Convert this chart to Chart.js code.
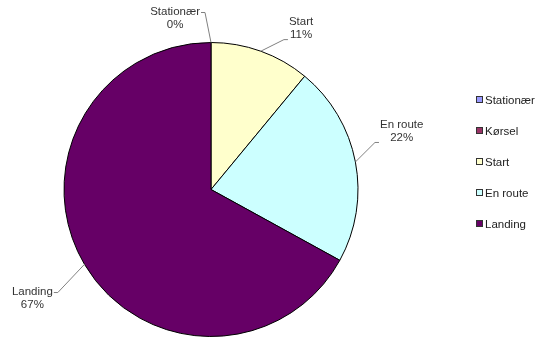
<!DOCTYPE html>
<html>
<head>
<meta charset="utf-8">
<script src="https://cdn.jsdelivr.net/npm/chart.js@4/dist/chart.umd.min.js"></script>
<style>
  html, body { margin: 0; padding: 0; background: #fff; }
  #wrap { position: relative; width: 538px; height: 337px; }
  #legend { position: absolute; left: 476px; top: 93px; font: 11.5px "Liberation Sans", Arial, sans-serif; color: #222; }
  #legend div { height: 31px; line-height: 14px; white-space: nowrap; }
  #legend span.box { display: inline-block; width: 5px; height: 5px; border: 1px solid #333; margin-right: 2px; vertical-align: 1px; }
</style>
</head>
<body>
<div id="wrap">
  <canvas id="myChart" width="538" height="337"></canvas>
  <div id="legend"></div>
</div>
<script>
// Kategorier og andele (procent)
const categories = ['Stationær', 'Kørsel', 'Start', 'En route', 'Landing'];
const shares = [0, null, 11, 22, 67];
const colors = ['#9999FF', '#993366', '#FFFFCC', '#CCFFFF', '#660066'];

// Små justeringer af etiketternes knækpunkt (px), så de ikke ligger helt radialt
const labelNudge = [[-6, -6], [0, 0], [15, 11], [-4, -15], [-6, 16]];

// Etiketter med streg ud til hver skive
const leaderLabels = {
    id: 'leaderLabels',
    afterDraw(chart) {
        const ctx = chart.ctx;
        const meta = chart.getDatasetMeta(0);
        ctx.save();
        ctx.font = '11.5px "Liberation Sans", Arial, sans-serif';
        ctx.textBaseline = 'middle';
        meta.data.forEach((arc, i) => {
            const value = shares[i];
            if (value === null || value === undefined) return;
            const p = arc.getProps(['x', 'y', 'startAngle', 'endAngle', 'outerRadius'], true);
            const mid = (p.startAngle + p.endAngle) / 2;
            const cos = Math.cos(mid), sin = Math.sin(mid);
            const x0 = p.x + cos * p.outerRadius;
            const y0 = p.y + sin * p.outerRadius;
            const x1 = p.x + cos * (p.outerRadius + 24) + labelNudge[i][0];
            const y1 = p.y + sin * (p.outerRadius + 24) + labelNudge[i][1];
            const side = cos > 0.01 ? 1 : -1;
            const x2 = x1 + side * 4;

            ctx.strokeStyle = '#808080';
            ctx.lineWidth = 1;
            ctx.beginPath();
            ctx.moveTo(x0, y0);
            ctx.lineTo(x1, y1);
            ctx.lineTo(x2, y1);
            ctx.stroke();

            const lines = [categories[i], value + '%'];
            const w = Math.max(...lines.map(t => ctx.measureText(t).width));
            const cx = x2 + side * (w / 2 + 1);
            // højre side: stregen møder nederste linje, venstre side: øverste linje
            const top = side > 0 ? y1 - 18 : y1 - 1;
            ctx.fillStyle = '#333';
            ctx.textAlign = 'center';
            ctx.fillText(lines[0], cx, top);
            ctx.fillText(lines[1], cx, top + 13);
        });
        ctx.restore();
    }
};

const ctx = document.getElementById('myChart').getContext('2d');
const chart = new Chart(ctx, {
    type: 'pie',
    data: {
        labels: categories,
        datasets: [{
            data: shares,
            backgroundColor: colors,
            borderColor: '#000',
            borderWidth: 1
        }]
    },
    options: {
        responsive: false,
        animation: false,
        layout: { padding: { top: 42, left: 63, right: 179, bottom: 0 } },
        plugins: {
            legend: { display: false },
            tooltip: { enabled: false }
        }
    },
    plugins: [leaderLabels]
});

// Forklaring til højre
const legend = document.getElementById('legend');
categories.forEach((name, i) => {
    const row = document.createElement('div');
    row.innerHTML = '<span class="box" style="background:' + colors[i] + '"></span>' + name;
    legend.appendChild(row);
});
</script>
</body>
</html>
